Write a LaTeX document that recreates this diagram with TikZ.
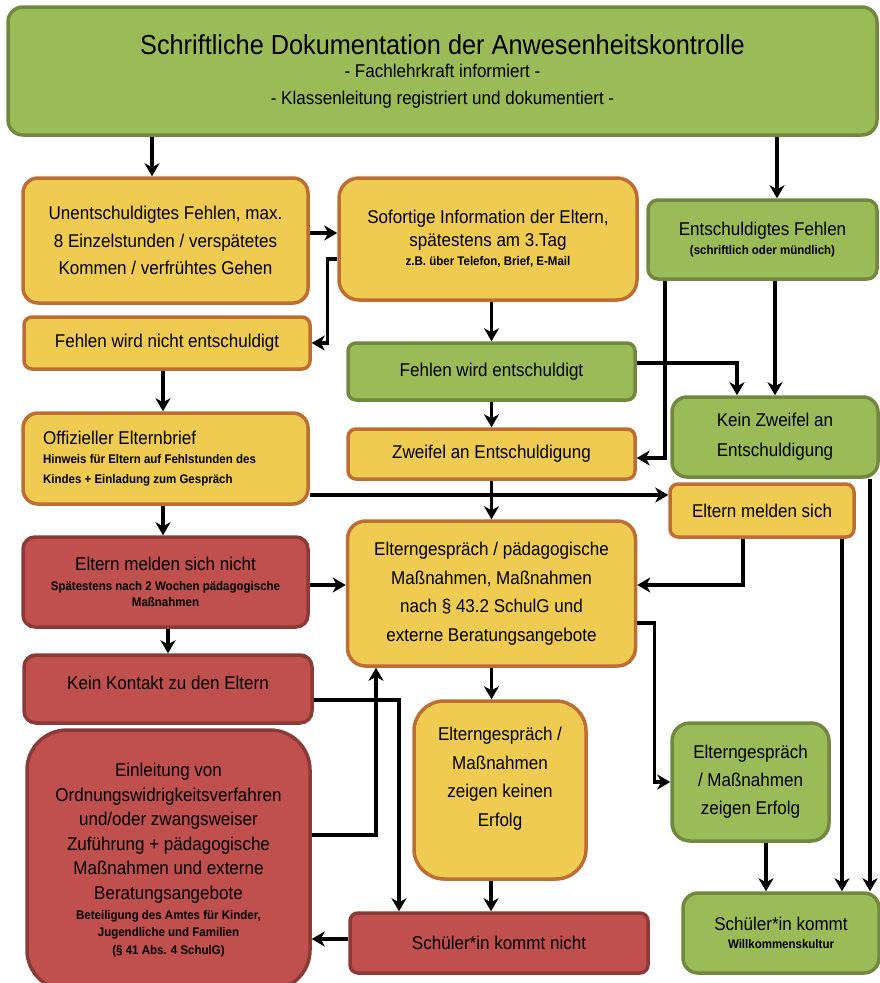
\documentclass[tikz,border=0pt]{standalone}
\usepackage{fontspec}
\setmainfont{Liberation Sans}[FakeStretch=0.92]
\usetikzlibrary{arrows.meta}

\definecolor{kgreen}{HTML}{9BBB59}
\definecolor{kgreenline}{HTML}{71893F}
\definecolor{kyellow}{HTML}{EFCB52}
\definecolor{kyellowline}{HTML}{BD6E32}
\definecolor{kred}{HTML}{C0504D}
\definecolor{kredline}{HTML}{8C3A37}

\newcommand{\sm}[1]{{\fontsize{12.5}{15}\selectfont\bfseries #1}}

\tikzset{
  flowbox/.style={draw, line width=3.5pt, align=center, inner sep=0pt, font=\fontsize{18.5}{27.5}\selectfont},
  greenbox/.style={flowbox, fill=kgreen, draw=kgreenline},
  yellowbox/.style={flowbox, fill=kyellow, draw=kyellowline},
  redbox/.style={flowbox, fill=kred, draw=kredline},
  flow/.style={line width=3.5pt, -{Stealth[length=13pt,width=15pt,inset=4pt]}}
}

\begin{document}
\begin{tikzpicture}[x=1pt,y=-1pt]
  \useasboundingbox (0,0) rectangle (880,983);

  % boxes
  \node[greenbox, rounded corners=15pt, minimum width=869pt, minimum height=128pt, font=\fontsize{18.5}{26.5}\selectfont] (doku) at (442.5,71)
    {{\fontsize{27.5}{30}\selectfont Schriftliche Dokumentation der Anwesenheitskontrolle}\\[-3pt]- Fachlehrkraft informiert -\\- Klassenleitung registriert und dokumentiert -};

  \node[yellowbox, rounded corners=15pt, minimum width=285pt, minimum height=125pt] (unent) at (165.5,240.5)
    {Unentschuldigtes Fehlen, max.\\8 Einzelstunden / verspätetes\\Kommen / verfrühtes Gehen};
  \node[yellowbox, rounded corners=20pt, minimum width=298pt, minimum height=122pt, font=\fontsize{18.5}{19}\selectfont] (info) at (488,239)
    {Sofortige Information der Eltern,\\[4pt]spätestens am 3.Tag\\\sm{z.B. über Telefon, Brief, E-Mail}};
  \node[greenbox, rounded corners=10pt, minimum width=229pt, minimum height=79pt, font=\fontsize{18.5}{19}\selectfont] (entsch) at (762.5,239.5)
    {Entschuldigtes Fehlen\\\sm{(schriftlich oder mündlich)}};

  \node[yellowbox, rounded corners=8pt, minimum width=286pt, minimum height=52pt] (nicht) at (167,343)
    {Fehlen wird nicht entschuldigt};
  \node[greenbox, rounded corners=8pt, minimum width=287pt, minimum height=57pt] (wird) at (491.5,371.5)
    {Fehlen wird entschuldigt};
  \node[greenbox, rounded corners=15pt, minimum width=206pt, minimum height=80pt, font=\fontsize{18.5}{30}\selectfont] (keinzw) at (775,437)
    {Kein Zweifel an\\Entschuldigung};

  \node[yellowbox, rounded corners=15pt, minimum width=285pt, minimum height=91pt, align=left, font=\fontsize{18.5}{19.5}\selectfont] (brief) at (165.5,458.5)
    {Offizieller Elternbrief\\\sm{Hinweis für Eltern auf Fehlstunden des}\rule{32pt}{0pt}\\\sm{Kindes + Einladung zum Gespräch}};
  \node[yellowbox, rounded corners=8pt, minimum width=287pt, minimum height=50pt] (zweifel) at (491.5,454)
    {Zweifel an Entschuldigung};
  \node[yellowbox, rounded corners=8pt, minimum width=184pt, minimum height=53pt] (melden) at (762,510.5)
    {Eltern melden sich};

  \node[redbox, rounded corners=12pt, minimum width=285pt, minimum height=90pt, font=\fontsize{18.5}{16}\selectfont] (nichtm) at (165.5,582)
    {Eltern melden sich nicht\\[4pt]\sm{Spätestens nach 2 Wochen pädagogische}\\\sm{Maßnahmen}};
  \node[yellowbox, rounded corners=18pt, minimum width=288pt, minimum height=145pt, font=\fontsize{18.5}{28.5}\selectfont] (gespr) at (491.5,593.5)
    {Elterngespräch / pädagogische\\Maßnahmen, Maßnahmen\\nach § 43.2 SchulG und\\externe Beratungsangebote};
  \node[redbox, rounded corners=12pt, minimum width=288pt, minimum height=68pt] (kontakt) at (168,689)
    {Kein Kontakt zu den Eltern\rule[-12pt]{0pt}{12pt}};

  \node[redbox, rounded corners=40pt, minimum width=283pt, minimum height=260pt, font=\fontsize{18.5}{24.5}\selectfont] (einl) at (168.5,860)
    {Einleitung von\\Ordnungswidrigkeitsverfahren\\und/oder zwangsweiser\\Zuführung + pädagogische\\Maßnahmen und externe\\Beratungsangebote\\[-4.5pt]\sm{Beteiligung des Amtes für Kinder,}\\[-7pt]\sm{Jugendliche und Familien}\\[-7pt]\sm{(§ 41 Abs. 4 SchulG)}};
  \node[yellowbox, rounded corners=30pt, minimum width=172pt, minimum height=178pt, font=\fontsize{18.5}{28.5}\selectfont] (keinerf) at (500,790)
    {Elterngespräch /\\Maßnahmen\\zeigen keinen\\Erfolg\rule[-26pt]{0pt}{26pt}};
  \node[greenbox, rounded corners=18pt, minimum width=157pt, minimum height=118pt, font=\fontsize{18.5}{28}\selectfont] (erfolg) at (750.5,782)
    {Elterngespräch\\/ Maßnahmen\\zeigen Erfolg};

  \node[redbox, rounded corners=8pt, minimum width=298pt, minimum height=60pt] (kommtn) at (499,943)
    {Schüler*in kommt nicht};
  \node[greenbox, rounded corners=15pt, minimum width=196pt, minimum height=80pt, font=\fontsize{18.5}{18}\selectfont] (kommt) at (781,933)
    {Schüler*in kommt\\\sm{Willkommenskultur}};

  % connectors
  \draw[flow] ([xshift=-13.5pt]unent.north |- doku.south) -- ([xshift=-13.5pt]unent.north);
  \draw[flow] ([xshift=14.5pt]entsch.north |- doku.south) -- ([xshift=14.5pt]entsch.north);
  \draw[flow] ([yshift=7.5pt]unent.east) -- ([yshift=7.5pt]unent.east -| info.west);
  \draw[flow] ([yshift=-20pt]info.west) -- ++(-10pt,0) |- (nicht.east);
  \draw[flow] ([xshift=-4pt]nicht.south) -- ([xshift=-4pt]nicht.south |- brief.north);
  \draw[flow] ([xshift=-2.5pt]brief.south) -- ([xshift=-2.5pt]brief.south |- nichtm.north);
  \draw[flow] (nichtm.south -| kontakt.north) -- (kontakt.north);

  \draw[flow] (info.south -| wird.north) -- (wird.north);
  \draw[flow] (wird.south) -- (zweifel.north);
  \draw[flow] (zweifel.south) -- (gespr.north);
  \draw[flow] ([yshift=8.5pt]wird.east) -| ([xshift=-38pt]keinzw.north);
  \draw[flow] (entsch.south -| keinzw.north) -- (keinzw.north);
  \draw[flow] ([xshift=-97.5pt]entsch.south) |- ([yshift=-4pt]zweifel.east);

  \draw[flow] ([yshift=-36.5pt]brief.east) -- ([yshift=-36.5pt]brief.east -| melden.west);
  \draw[flow] ([yshift=-3pt]nichtm.east) -- ([yshift=-3pt]nichtm.east -| gespr.west);
  \draw[flow] ([xshift=-19pt]melden.south) |- ([yshift=8.5pt]gespr.east);
  \draw[flow] ([yshift=-29.5pt]gespr.east) -- ++(17pt,0) |- (erfolg.west);
  \draw[flow] (gespr.south) -- (gespr.south |- keinerf.north);
  \draw[flow] ([xshift=-9pt]keinerf.south) -- ([xshift=-9pt]keinerf.south |- kommtn.north);

  \draw[flow] ([yshift=-11pt]kontakt.east) -| ([xshift=-100pt]kommtn.north);
  \draw[flow] ([yshift=25pt]einl.east) -| ([xshift=-115.5pt]gespr.south);
  \draw[flow] ([yshift=4pt]kommtn.west) -- ([yshift=4pt]kommtn.west -| einl.east);

  \draw[flow] ([xshift=15.5pt]erfolg.south) -- ([xshift=15.5pt]erfolg.south |- kommt.north);
  \draw[flow] ([xshift=80pt]melden.south) -- ([xshift=80pt]melden.south |- kommt.north);
  \draw[flow] ([xshift=95pt]keinzw.south) -- ([xshift=95pt]keinzw.south |- kommt.north);
\end{tikzpicture}
\end{document}
